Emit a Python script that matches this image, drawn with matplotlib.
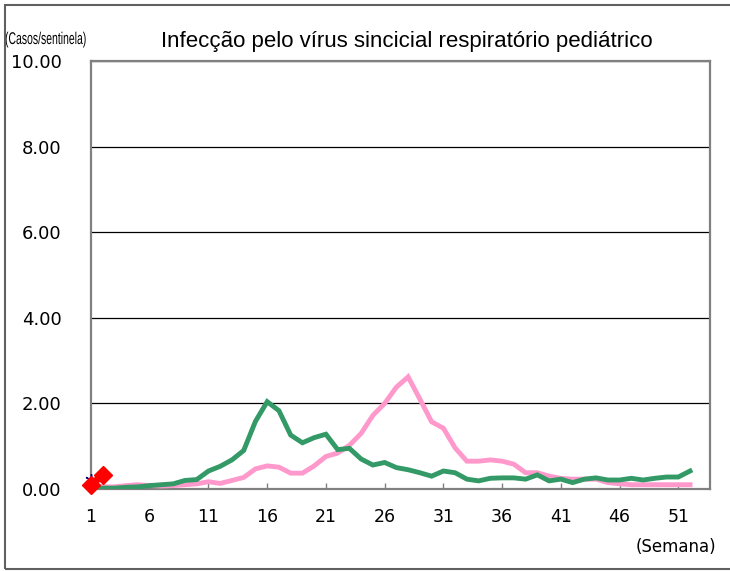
import numpy as np
import matplotlib.pyplot as plt
from matplotlib.patches import Rectangle, PathPatch
from matplotlib.textpath import TextPath
from matplotlib.font_manager import FontProperties
from matplotlib.transforms import Affine2D

# ---------------- data (casos/sentinela por semana) ----------------
weeks = np.arange(1, 53)
prev_year = [0.02, 0.02, 0.02, 0.04, 0.05, 0.08, 0.10, 0.12, 0.20, 0.22,
             0.42, 0.53, 0.68, 0.90, 1.58, 2.04, 1.83, 1.26, 1.08, 1.20,
             1.28, 0.92, 0.95, 0.70, 0.56, 0.62, 0.50, 0.45, 0.38, 0.30,
             0.42, 0.38, 0.23, 0.19, 0.25, 0.26, 0.26, 0.23, 0.33, 0.19,
             0.23, 0.15, 0.23, 0.26, 0.21, 0.21, 0.25, 0.21, 0.25, 0.28,
             0.28, 0.42]
two_years_ago = [0.08, 0.05, 0.05, 0.08, 0.10, 0.08, 0.07, 0.08, 0.10, 0.12,
                 0.17, 0.13, 0.20, 0.27, 0.47, 0.54, 0.51, 0.37, 0.37, 0.54,
                 0.76, 0.84, 1.02, 1.30, 1.72, 2.00, 2.38, 2.62, 2.10, 1.57,
                 1.42, 0.96, 0.65, 0.65, 0.68, 0.65, 0.58, 0.38, 0.38, 0.30,
                 0.25, 0.23, 0.23, 0.23, 0.15, 0.12, 0.10, 0.10, 0.10, 0.10,
                 0.10, 0.10]
cur_weeks = [1, 2]
cur_year = [0.10, 0.32]
blue_weeks = [1]
blue_vals = [0.2]

yticks = [0, 2, 4, 6, 8, 10]
xticks = list(range(1, 52, 5))

GREEN, PINK, RED, NAVY = "#339966", "#FF99CC", "#FF0000", "#000080"
GRAY = "#808080"

fig = plt.figure(figsize=(7.3, 5.71), dpi=100)
ax = fig.add_axes([91 / 730, 1 - 489 / 571, (710 - 91) / 730, (489 - 61) / 571])

ax.plot(weeks, two_years_ago, color=PINK, lw=3.5, solid_joinstyle="miter", zorder=3)
ax.plot(weeks, prev_year, color=GREEN, lw=3.5, solid_joinstyle="miter", zorder=4)
ax.plot(blue_weeks, blue_vals, color=NAVY, marker=(6, 2, 0), ms=9, mew=1, lw=1, zorder=5,
        clip_on=False)
ax.plot(cur_weeks, cur_year, color=RED, lw=5, marker="D", ms=9, mec=RED, zorder=6,
        clip_on=False)

ax.set_xlim(1, 53.7)
ax.set_ylim(0, 10)
ax.set_yticks(yticks)
ax.set_yticklabels([f"{v:.2f}" for v in yticks])
ax.set_xticks(xticks)
ax.set_xticklabels([str(v) for v in xticks])
ax.grid(axis="y", color="black", lw=0.9)
ax.set_axisbelow(True)
ax.tick_params(axis="y", length=0, pad=21, labelsize=13)
ax.tick_params(axis="x", direction="in", length=4, width=1, color=GRAY, pad=14, labelsize=12.5)
for s in ax.spines.values():
    s.set_color(GRAY)
    s.set_linewidth(1.6)

fig.text(407 / 730, 1 - 42 / 571, "Infecção pelo vírus sincicial respiratório pediátrico",
         ha="center", va="center", fontsize=16, family=["Liberation Sans", "DejaVu Sans"])
fig.text(716 / 730, 1 - 547 / 571, "(Semana)", ha="right", va="center", fontsize=12)

# condensed unit label (no narrow font installed, so squeeze a text path)
tp = TextPath((0, 0), "(Casos/sentinela)", size=17,
              prop=FontProperties(family="Liberation Sans"))
tw = tp.get_extents().width
sx = 80 / tw
fig.patches.append(PathPatch(tp, transform=Affine2D().scale(sx, 1).translate(5, 571 - 44),
                             fc="black", ec="none"))

fig.patches.append(Rectangle((5 / 730, 1 - 569 / 571), 730 / 730, 564 / 571,
                             transform=fig.transFigure, fill=False, ec="#606060", lw=1.5))

fig.savefig("out.png", dpi=100)
